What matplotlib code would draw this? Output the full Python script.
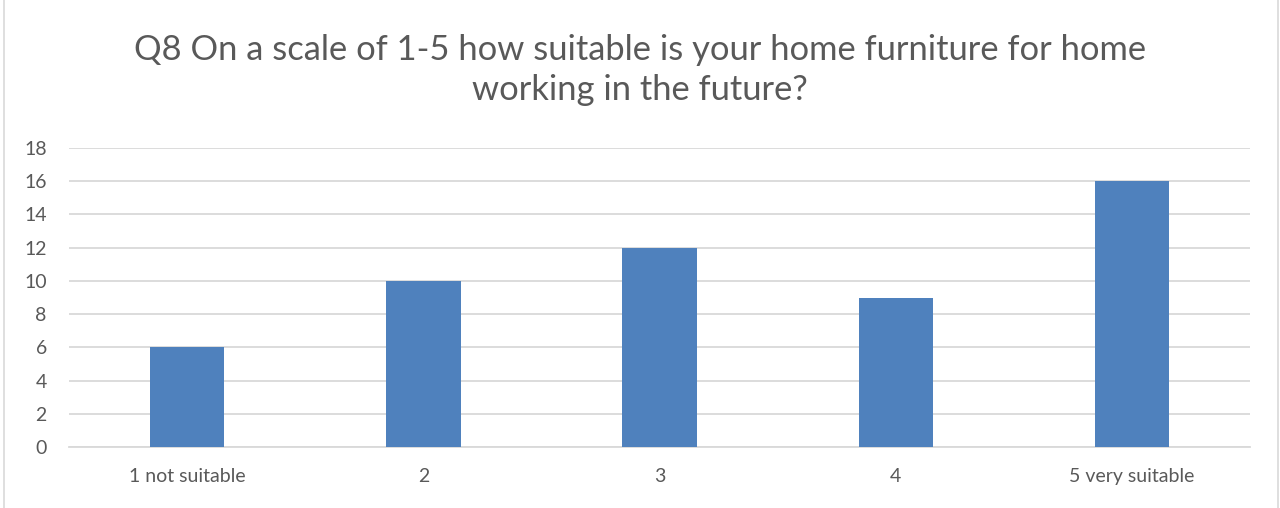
import matplotlib.pyplot as plt
from matplotlib.patches import Rectangle

# Q8 home furniture suitability
categories = ['1 not suitable', '2', '3', '4', '5 very suitable']
counts = [6, 10, 12, 9, 16]
yticks = [0, 2, 4, 6, 8, 10, 12, 14, 16, 18]

plt.rcParams['font.family'] = ['Lato', 'DejaVu Sans']

fig = plt.figure(figsize=(12.8, 5.08), dpi=100)
ax = fig.add_axes([0.0539, 0.120, 0.9227, 0.5887])

x = range(len(categories))
ax.bar(x, counts, width=0.315, color='#4F81BD', zorder=3)

ax.set_xlim(-0.5, len(categories) - 0.5)
ax.set_ylim(0, 18)
ax.set_yticks(yticks)
ax.set_xticks(list(x))
ax.set_xticklabels(categories)
ax.grid(axis='y', color='#D9D9D9', linewidth=1.3, zorder=0)
ax.tick_params(axis='both', length=0, labelsize=14, colors='#595959')
ax.tick_params(axis='x', pad=15)
ax.tick_params(axis='y', pad=16)
for s in ['top', 'right', 'left']:
    ax.spines[s].set_visible(False)
ax.spines['bottom'].set_color('#D9D9D9')
ax.spines['bottom'].set_linewidth(1.3)

fig.text(0.5, 0.862, 'Q8 On a scale of 1-5 how suitable is your home furniture for home\nworking in the future?',
         ha='center', va='center', fontsize=24.8, color='#595959', linespacing=1.3)

# chart frame
fig.patches.append(Rectangle((4 / 1280, -0.01), 1274 / 1280, 1.02, transform=fig.transFigure,
                             fill=False, edgecolor='#D9D9D9', linewidth=1.2))

fig.savefig('out.png', dpi=100)
